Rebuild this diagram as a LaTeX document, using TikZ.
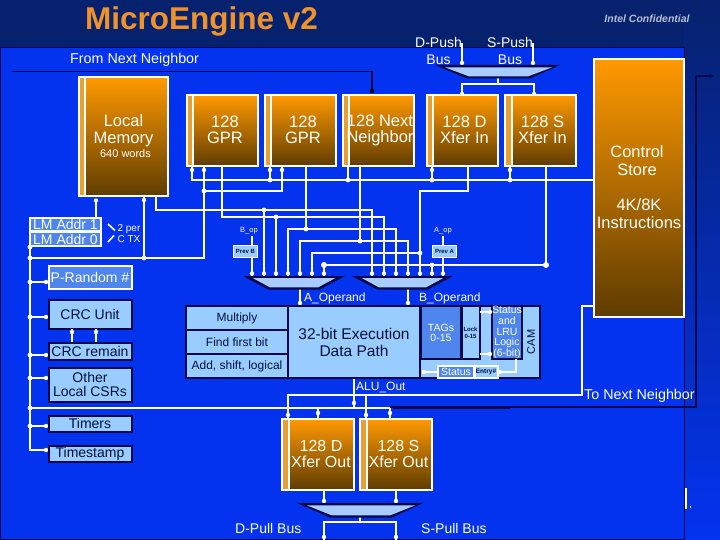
\documentclass[tikz,border=0pt]{standalone}
\usepackage{fontspec}
\usetikzlibrary{calc,arrows.meta}
\setmainfont{Liberation Sans}
\newcommand{\fsz}[2]{\fontsize{#1}{#2}\selectfont}
\definecolor{navy}{HTML}{06226E}
\definecolor{panel}{HTML}{0433F0}
\definecolor{deepline}{HTML}{00084A}
\definecolor{lightcell}{HTML}{99CCFF}
\definecolor{midcell}{HTML}{4F86EE}
\definecolor{orangetop}{HTML}{FF9900}
\definecolor{orangelow}{HTML}{5E3C00}
\definecolor{stripc}{HTML}{E8A030}
\definecolor{inkc}{HTML}{00103A}
\definecolor{titlec}{HTML}{F0922A}
\definecolor{muxc}{HTML}{A8CCFF}
\tikzset{
  x=1pt,y=-1pt,
  wire/.style={draw=white,line width=2.2pt,line join=miter},
  darkwire/.style={draw=deepline,line width=1.6pt},
  orangebox/.style={draw=white,line width=2pt,inner sep=0pt,outer sep=0pt,
    top color=orangetop,bottom color=orangelow,
    path picture={
      \fill[stripc] (path picture bounding box.north west) rectangle ([xshift=6pt]path picture bounding box.south west);
      \fill[white] ([xshift=5.5pt]path picture bounding box.north west) rectangle ([xshift=7.5pt]path picture bounding box.south west);
    }},
  plainorange/.style={draw=white,line width=2pt,inner sep=0pt,outer sep=0pt,top color=orangetop,bottom color=orangelow},
  cell/.style={draw=deepline,line width=2pt,fill=lightcell,inner sep=0pt,outer sep=0pt,text=inkc,align=center},
  bluecell/.style={draw=deepline,line width=2pt,fill=midcell,inner sep=0pt,outer sep=0pt,text=white,align=center},
  whitecell/.style={draw=white,line width=2pt,fill=midcell,inner sep=0pt,outer sep=0pt,text=white,align=center},
  lab/.style={text=white,inner sep=0pt,align=center},
  inklab/.style={text=inkc,inner sep=0pt,align=center},
}
\begin{document}
\begin{tikzpicture}
\useasboundingbox (0,0) rectangle (720,540);
% background
\fill[navy] (0,0) rectangle (720,48);
\fill[panel] (0,48) rectangle (684,540);
\shade[top color=navy,bottom color=panel] (684,0) rectangle (720,540);
\draw[deepline,line width=1.5pt] (0,540) -- (0,47.5) -- (684.5,47.5) -- (684.5,540);
\draw[deepline,line width=1pt] (0,539.5) -- (684,539.5);
\fill[white] (685,488) rectangle (687,509);
\fill[white] (689.5,506) rectangle (691,508);

% coordinates
\foreach \n/\xx in {a1/252,a2/264,a3/276,a4/288,a5/300,a6/312,a7/324,b1/372,b2/384,b3/396,b4/408,b5/420,b6/432,b7/443}
  \coordinate (p\n) at (\xx,276);
\coordinate (g1a) at (192,167); \coordinate (g1b) at (204,167); \coordinate (g1o) at (222,167);
\coordinate (g2a) at (270,167); \coordinate (g2b) at (282,167); \coordinate (g2o) at (306,167);
\coordinate (nna) at (348,167); \coordinate (nno) at (360,167);
\coordinate (dia) at (432,167); \coordinate (dio) at (468,167);
\coordinate (sia) at (510,167); \coordinate (sio) at (546,167);
\coordinate (lmo) at (156,197); \coordinate (lmc) at (144,197);
\coordinate (main) at (593,180);
\coordinate (r191) at (204,191); \coordinate (k191) at (420,191);
\coordinate (bus) at (30,258); \coordinate (bustop) at (30,247);
\coordinate (h210) at (264,210); \coordinate (h217) at (276,217);
\coordinate (h229) at (306,229); \coordinate (h241) at (360,241);
\coordinate (h253) at (420,253); \coordinate (h265) at (546,265); \coordinate (h265b) at (432,265);
\coordinate (busP) at (30,282); \coordinate (busC) at (30,317); \coordinate (busR) at (30,355);
\coordinate (busO) at (30,378); \coordinate (busL) at (30,408); \coordinate (busT) at (30,426);
\coordinate (busS) at (30,450);
\coordinate (lineL) at (390,408); \coordinate (lineD) at (318,408);
\coordinate (doutA) at (288,418); \coordinate (soutA) at (366,418);
\coordinate (doutB) at (318,418); \coordinate (soutB) at (390,418);
\coordinate (l395a) at (288,395); \coordinate (l395s) at (366,395); \coordinate (l395e) at (582,395);
\coordinate (ctlin) at (593,306);
\coordinate (alu) at (354,378); \coordinate (alub) at (354,408);
\coordinate (dp1) at (324,491); \coordinate (sp1) at (396,491);
\coordinate (dp2) at (324,503); \coordinate (sp2) at (396,503);
\coordinate (pullm) at (360,517); \coordinate (pullj) at (360,522);
\coordinate (dpe) at (324,540); \coordinate (spe) at (396,540);
\coordinate (pd1) at (462,43); \coordinate (pd2) at (462,65);
\coordinate (ps1) at (533,43); \coordinate (ps2) at (533,65);
\coordinate (pm) at (498,78); \coordinate (pj) at (498,84);
\coordinate (pdo) at (462,95); \coordinate (pso) at (534,95);
\coordinate (ao1) at (300,289); \coordinate (ao2) at (300,306);
\coordinate (bo1) at (408,289); \coordinate (bo2) at (408,306);
\coordinate (bopa) at (252,236); \coordinate (bopb) at (252,245);
\coordinate (aopa) at (443,236); \coordinate (aopb) at (443,245);
\coordinate (nna0) at (372,71.5); \coordinate (nnb0) at (372,91); \coordinate (nnc0) at (12,71.5);
\coordinate (tn0) at (390,407); \coordinate (tn1) at (696,407); \coordinate (tn2) at (696,76); \coordinate (tn3) at (714,76);

% white wires
\draw[wire] (g1a) |- (main);
\foreach \p in {g2a,nna,dia,sia} \draw[wire] (\p) -- (\p |- main);
\draw[wire] (g2b) |- (r191);
\draw[wire] (g1b) |- (bus);
\draw[wire] (lmc) -- (lmc |- bus);
\draw[wire] (bustop) |- (busS) -- (48,450);
\draw[wire] (busP) -- (48,282);
\draw[wire] (busC) -- (48,317);
\draw[wire] (busR) -- (48,355);
\draw[wire] (busO) -- (48,378);
\draw[wire] (busT) -- (48,426);
\draw[wire] (busL) -- (lineL) -- (soutB);
\draw[wire] (lineD) -- (doutB);
\draw[wire] (alu) -- (alub);
\draw[wire] (doutA) |- (l395e) |- (ctlin);
\draw[wire] (soutA) -- (l395s);
\draw[wire] (lmo) |- (h210) -| (pb1);
\draw[wire] (h210) -- (pa2);
\draw[wire] (g1o) |- (h217) -| (pb2);
\draw[wire] (h217) -- (pa3);
\draw[wire] (g2o) -- (h229);
\draw[wire] (pa4) |- (h229) -| (pb3);
\draw[wire] (nno) -- (h241);
\draw[wire] (pa5) |- (h241) -| (pb4);
\draw[wire] (dio) |- (k191) -- (pb5);
\draw[wire] (pa6) |- (h253);
\draw[wire] (sio) -- (h265);
\draw[wire] (pa7) |- (h265);
\draw[wire] (h265b) -- (pb6);
\draw[wire] (bopa) -- (bopb);
\draw[wire] (aopa) -- (aopb);
\draw[wire] (bopb) -- (pa1);
\draw[wire] (aopb) -- (pb7);
\draw[wire] (ao1) -- (ao2);
\draw[wire] (bo1) -- (bo2);
\draw[wire] (dp1) -- (dp2);
\draw[wire] (sp1) -- (sp2);
\draw[wire] (pullm) -- (pullj);
\draw[wire] (dpe) |- (pullj) -| (spe);
\draw[wire] (pd1) -- (pd2);
\draw[wire] (ps1) -- (ps2);
\draw[wire] (pm) -- (pj);
\draw[wire] (pdo) |- (pj) -| (pso);

% white dots
\foreach \p in {g2a|-main,nna|-main,dia|-main,sia|-main,r191,bus,bustop,lmc|-bus,busP,busC,busR,busO,busL,busT,h210,h217,h229,h241,h253,h265b}
  \fill[white] (\p) circle (2.4);
\foreach \p in {h265,pa7|-h265} \fill[white] (\p) circle (3);
\foreach \p in {pa1,pa2,pa3,pa4,pa5,pa6,pa7,pb1,pb2,pb3,pb4,pb5,pb6,pb7}
  \fill[white] ($(\p)+(0,-2.5)$) circle (2.2);
\foreach \p/\dx/\dy in {lmc/0/3,g1a/0/3,g1b/0/3,g2a/0/3,g2b/0/3,dia/0/3,sia/0/3,doutA/0/-3,soutA/0/-3,doutB/0/-5,soutB/0/-5,alub/0/-5,ao2/0/-3,bo2/0/-3,dp2/0/-2,sp2/0/-2,dpe/0/-3,spe/0/-3,pd2/0/-2,ps2/0/-2,pdo/0/-1,pso/0/-1}
  \fill[white] ($(\p)+(\dx,\dy)$) circle (2.2);
\foreach \yy in {282,317,355,378,426,450} \fill[white] (46,\yy) circle (2.2);

% dark loop lines
\draw[darkwire] (nnc0) -- (nna0) -- (nnb0);
\fill[black] (nnb0) circle (2.2);
\draw[darkwire] (tn0) -- (tn1) -- (tn2);
\draw[deepline,line width=1.6pt,-{Stealth[length=5pt,width=4pt]}] (tn2) -- (tn3);
\draw[deepline,line width=3pt] (393,407) -- (510,407);

% muxes
\fill[deepline] (243,276) -- (345,276) -- (320,289.5) -- (268,289.5) -- cycle;
\fill[muxc] (253,278.2) -- (335,278.2) -- (318,287.4) -- (270,287.4) -- cycle;
\fill[deepline] (352,276) -- (453,276) -- (428,289.5) -- (377,289.5) -- cycle;
\fill[muxc] (362,278.2) -- (443,278.2) -- (426,287.4) -- (379,287.4) -- cycle;
\fill[deepline] (435,65) -- (560,65) -- (530,78.5) -- (467,78.5) -- cycle;
\fill[muxc] (445,67.4) -- (552,67.4) -- (528,76.4) -- (469,76.4) -- cycle;
\fill[deepline] (297,503) -- (423,503) -- (392,517.5) -- (330,517.5) -- cycle;
\fill[muxc] (307,505.4) -- (415,505.4) -- (390,515.4) -- (332,515.4) -- cycle;

% orange blocks
\node[orangebox,minimum width=89pt,minimum height=119pt] (lm) at (123,137) {};
\node[orangebox,minimum width=71pt,minimum height=71pt] (gpra) at (222,131) {};
\node[orangebox,minimum width=71pt,minimum height=71pt] (gprb) at (300,131) {};
\node[orangebox,minimum width=71pt,minimum height=71pt] (nnb) at (378,131) {};
\node[orangebox,minimum width=71pt,minimum height=71pt] (dxi) at (462,131) {};
\node[orangebox,minimum width=71pt,minimum height=71pt] (sxi) at (540.5,131) {};
\node[plainorange,minimum width=90pt,minimum height=257pt] (cs) at (638.5,188) {};
\node[orangebox,minimum width=72pt,minimum height=71pt] (dxo) at (318,454.5) {};
\node[orangebox,minimum width=72pt,minimum height=71pt] (sxo) at (396,454.5) {};

% left blocks
\node[whitecell,minimum width=71pt,minimum height=13pt,font=\fsz{14}{14}] (lma) at (65.5,224.5) {LM Addr 1};
\node[whitecell,minimum width=71pt,minimum height=14pt,font=\fsz{14}{14}] (lmz) at (65.5,239) {LM Addr 0};
\node[whitecell,minimum width=83pt,minimum height=23pt,font=\fsz{14}{14}] (prnd) at (90,277) {P-Random \#};
\node[cell,minimum width=83pt,minimum height=29pt,font=\fsz{14}{14}] (crcu) at (90,314) {CRC Unit};
\node[cell,minimum width=83pt,minimum height=17pt,font=\fsz{14}{14}] (crcr) at (90,351) {CRC remain};
\node[cell,minimum width=83pt,minimum height=34pt,font=\fsz{14}{14.5}] (oth) at (90,384.5) {Other\\Local CSRs};
\node[cell,minimum width=83pt,minimum height=16pt,font=\fsz{14}{14}] (tim) at (90,423.5) {Timers};
\node[cell,minimum width=83pt,minimum height=16pt,font=\fsz{14}{14}] (tst) at (90,453.5) {Timestamp};
\draw[wire] (72,329) -- (72,342);
\draw[wire] (96,329) -- (96,342);
\fill[white] (72,332) circle (2.2);
\fill[white] (96,332) circle (2.2);

% execution blocks
\node[cell,minimum width=102pt,minimum height=24pt,font=\fsz{12}{12}] (mul) at (237,318) {Multiply};
\node[cell,minimum width=102pt,minimum height=24pt,font=\fsz{12}{12}] (ffb) at (237,342) {Find first bit};
\node[cell,minimum width=102pt,minimum height=24pt,font=\fsz{12}{12}] (add) at (237,366) {Add, shift, logical};
\node[cell,minimum width=132pt,minimum height=72pt] (exe) at (354,342) {};
\node[inklab,font=\fsz{15.5}{17}] (exet) at (354,342.5) {32-bit Execution\\Data Path};
\node[cell,minimum width=120pt,minimum height=72pt] (camg) at (480,342) {};
\node[bluecell,minimum width=40pt,minimum height=53pt,font=\fsz{10.5}{10}] (tags) at (441,332.5) {TAGs\\0-15};
\node[cell,minimum width=18pt,minimum height=53pt,font=\bfseries\fsz{6}{7}] (lock) at (470.5,332.5) {Lock\\0-15};
\node[bluecell,minimum width=30pt,minimum height=53pt,font=\fsz{10.5}{10.7}] (lru) at (507,332.5) {Status\\and\\LRU\\Logic\\(6-bit)};
\node[inklab,rotate=90,font=\fsz{11}{11}] (camt) at (531,342) {CAM};
\node[whitecell,minimum width=36pt,minimum height=12pt,font=\fsz{10.5}{10.5}] (stat) at (456,372) {Status};
\node[draw=white,line width=2pt,fill=lightcell,text=inkc,inner sep=0pt,minimum width=23pt,minimum height=12pt,font=\bfseries\fsz{6.5}{6.5}] (entry) at (486,372) {Entry\#};
\draw[wire] (lock.east |- 0,312) -- (lru.west |- 0,312);
\draw[wire] (lock.east |- 0,354) -- (lru.west |- 0,354);
\draw[wire] (lru.south -| 516,0) |- (entry.east);
\draw[wire] (stat.west) -- (422,372);
\foreach \yy in {312,354} \fill[white] (490,\yy) circle (2.2);
\fill[white] (500,372) circle (2.2);
\fill[white] (424,372) circle (2.2);

% prev registers
\node[draw=white,line width=1pt,fill=lightcell,text=inkc,inner sep=0pt,minimum width=24pt,minimum height=12pt,font=\bfseries\fsz{6}{6}] (pvb) at (245.5,251.5) {Prev B};
\node[draw=white,line width=1pt,fill=lightcell,text=inkc,inner sep=0pt,minimum width=24pt,minimum height=12pt,font=\bfseries\fsz{6}{6}] (pva) at (444.5,251.5) {Prev A};

% labels
\node[text=titlec,inner sep=0pt,anchor=west,font=\bfseries\fsz{31.5}{32}] (title) at (85,21) {MicroEngine v2};
\node[text=white!70!navy,inner sep=0pt,font=\bfseries\itshape\fsz{10.5}{11}] (conf) at (647,19) {Intel Confidential};
\node[lab,font=\fsz{14}{17}] (dpush) at (438.5,50.5) {D-Push\\Bus};
\node[lab,font=\fsz{14}{17}] (spush) at (510,50.5) {S-Push\\Bus};
\node[lab,anchor=west,font=\fsz{14.3}{15}] (fnn) at (70,60) {From Next Neighbor};
\node[lab,font=\fsz{16.5}{17}] (lmt) at (123.5,130.5) {Local\\Memory};
\node[lab,font=\fsz{11}{11}] (lmw) at (125.5,154) {640 words};
\node[lab,font=\fsz{16.5}{16}] (gat) at (225,130) {128\\GPR};
\node[lab,font=\fsz{16.5}{16}] (gbt) at (303,130) {128\\GPR};
\node[lab,font=\fsz{16.5}{16}] (nnt) at (380,130) {128 Next\\Neighbor};
\node[lab,font=\fsz{16.5}{16}] (dxt) at (464.5,130) {128 D\\Xfer In};
\node[lab,font=\fsz{16.5}{16}] (sxt) at (542.5,130) {128 S\\Xfer In};
\node[lab,font=\fsz{16.5}{18}] (cst) at (637,161) {Control\\Store};
\node[lab,font=\fsz{16.5}{18}] (csi) at (639,214) {4K/8K\\Instructions};
\node[lab,font=\fsz{10}{11}] (twop) at (129,233.5) {2 per\\C TX};
\node[lab,font=\fsz{7.5}{8}] (bop) at (249,231) {B\_op};
\node[lab,font=\fsz{7.5}{8}] (aop) at (443,231) {A\_op};
\node[lab,anchor=west,font=\fsz{12}{12}] (aot) at (304,298.5) {A\_Operand};
\node[lab,anchor=west,font=\fsz{12}{12}] (bot) at (419,298) {B\_Operand};
\node[lab,anchor=west,font=\fsz{12}{12}] (alut) at (356,387.5) {ALU\_Out};
\node[lab,anchor=west,font=\fsz{14.3}{15}] (tnn) at (584,396) {To Next Neighbor};
\node[lab,font=\fsz{16}{16}] (doutt) at (321,454) {128 D\\Xfer Out};
\node[lab,font=\fsz{16}{16}] (soutt) at (398.5,454) {128 S\\Xfer Out};
\node[lab,anchor=west,font=\fsz{14}{14}] (dpull) at (235,528) {D-Pull Bus};
\node[lab,anchor=west,font=\fsz{14}{14}] (spull) at (421,528) {S-Pull Bus};

% ticks by 2 per CTX
\draw[white,line width=1.6pt] (108,224) -- (115,230.5);
\draw[white,line width=1.6pt] (108,242) -- (114,235.5);
\fill[white] (96,200.5) circle (2.2);
\draw[wire] (96,200) -- (96,217);
\end{tikzpicture}
\end{document}
